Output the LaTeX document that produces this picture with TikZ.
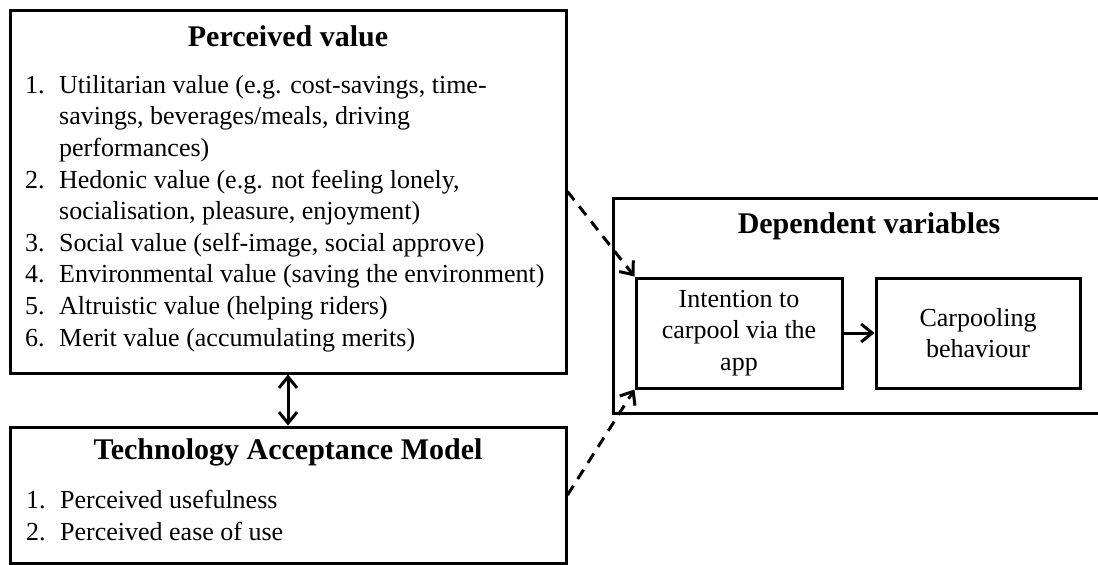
\documentclass[tikz,border=0pt]{standalone}
\usepackage{fontspec}
\setmainfont{Liberation Serif}
\usetikzlibrary{arrows.meta}
\newcommand{\itemno}[1]{\makebox[34pt][l]{#1}}
\newcommand{\itemcont}{\hspace*{34pt}}
\begin{document}
\begin{tikzpicture}[x=1pt,y=-1pt,
  box/.style={draw, line width=3pt, rectangle, inner sep=0pt},
  titletext/.style={font=\fontsize{30}{35}\selectfont\bfseries, inner sep=0pt},
  bodytext/.style={font=\fontsize{26}{31.6}\selectfont, inner sep=0pt},
  listtext/.style={bodytext, anchor=base west, align=left},
  link/.style={line width=3pt, -{Straight Barb[length=11pt,width=18pt]}},
  dashlink/.style={link, dash pattern=on 11pt off 8pt},
  twoway/.style={line width=3pt, {Straight Barb[length=11pt,width=18pt]}-{Straight Barb[length=11pt,width=18pt]}}
]
\useasboundingbox (0,0) rectangle (1098,565);
\fill[white] (0,0) rectangle (1098,565);

% Perceived value block (list anchored at the baseline of its last line)
\node[box, minimum width=556pt, minimum height=363pt] (pv) at (288,191.5) {};
\node[titletext] (pvtitle) at (288,36) {Perceived value};
\node[listtext] (pvlist) at (25,346) {%
\itemno{1.}Utilitarian value (e.g. cost-savings, time-\\
\itemcont savings, beverages/meals, driving\\
\itemcont performances)\\
\itemno{2.}Hedonic value (e.g. not feeling lonely,\\
\itemcont socialisation, pleasure, enjoyment)\\
\itemno{3.}Social value (self-image, social approve)\\
\itemno{4.}Environmental value (saving the environment)\\
\itemno{5.}Altruistic value (helping riders)\\
\itemno{6.}Merit value (accumulating merits)};

% Technology Acceptance Model block
\node[box, minimum width=556pt, minimum height=136pt] (tam) at (288,495) {};
\node[titletext] (tamtitle) at (288,452) {Technology Acceptance Model};
\node[listtext] (tamlist) at (26,540) {%
\itemno{1.}Perceived usefulness\\
\itemno{2.}Perceived ease of use};

% Dependent variables block (runs past the right edge)
\begin{scope}
\clip (0,0) rectangle (1098,565);
\node[box, minimum width=500pt, minimum height=215pt] (dv) at (863,305.5) {};
\end{scope}
\node[titletext] (dvtitle) at (869,226) {Dependent variables};
\node[box, bodytext, minimum width=206pt, minimum height=110pt, align=center] (itc) at (739,333)
  {\raisebox{-3pt}{Intention to}\\\raisebox{-3pt}{carpool via the}\\\raisebox{-3pt}{app}};
\node[box, bodytext, minimum width=204pt, minimum height=110pt, align=center] (cb) at (978,333)
  {Carpooling\\behaviour};

% Connectors
\draw[twoway] (pv.south) -- (tam.north);
\draw[dashlink] (pv.east) -- (itc.north west);
\draw[dashlink] (tam.east) -- (itc.south west);
\draw[link] (itc.east) -- (cb.west);
\end{tikzpicture}
\end{document}
